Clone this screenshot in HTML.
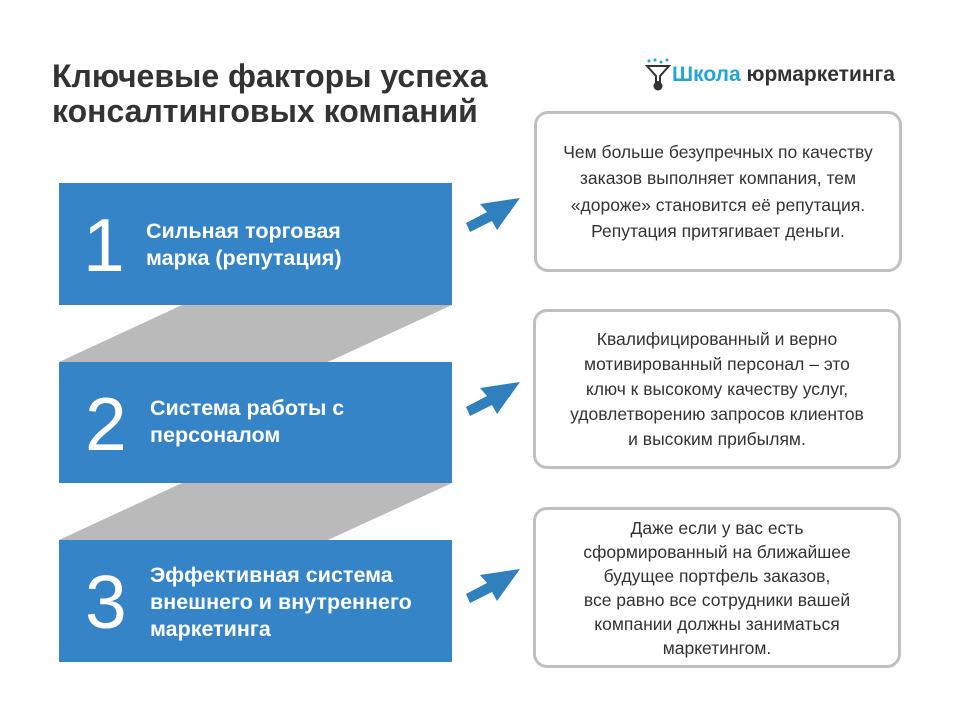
<!DOCTYPE html>
<html><head><meta charset="utf-8"><style>
body{margin:0;width:960px;height:720px;background:#fff;position:relative;overflow:hidden;font-family:"Liberation Sans",sans-serif}
.t{position:absolute;left:52px;top:59px;font-size:32px;font-weight:bold;color:#333;line-height:35px;white-space:nowrap}
.logo{position:absolute;left:672px;top:63px;font-size:21px;font-weight:bold;color:#333;white-space:nowrap}
.logo span{color:#1fa6d6}
.b{position:absolute;left:59px;width:393px;background:#3584c8;color:#fff}
.b .n{position:absolute;left:24px;font-size:75px;line-height:75px}
.b .l{position:absolute;left:87px;font-size:21.5px;font-weight:bold;line-height:27px;white-space:nowrap}
.c{position:absolute;left:534px;width:368px;border:3px solid #c0c0c0;border-radius:14px;color:#333;font-size:17.5px;line-height:26.5px;text-align:center;box-sizing:border-box;display:flex;align-items:center;justify-content:center;white-space:nowrap}
</style></head><body>
<div class="t">Ключевые факторы успеха<br>консалтинговых компаний</div>
<svg style="position:absolute;left:645px;top:58px" width="26" height="34" viewBox="0 0 26 34">
<circle cx="4" cy="3" r="1.5" fill="#1fa6d6"/><circle cx="10" cy="2" r="1.5" fill="#1fa6d6"/><circle cx="16" cy="4" r="1.5" fill="#1fa6d6"/><circle cx="22" cy="2" r="1.5" fill="#1fa6d6"/>
<path d="M2 8 H24 L15 18 V24 H11 V18 Z" fill="none" stroke="#333" stroke-width="2"/>
<circle cx="13" cy="28" r="4.5" fill="#333"/></svg>
<div class="logo"><span>Школа</span> юрмаркетинга</div>

<svg style="position:absolute;left:0;top:0" width="960" height="720">
<polygon points="182,305 452,305 328,362 59,362" fill="#bababa"/>
<polygon points="182,483 452,483 328,540 59,540" fill="#bababa"/>
<g fill="#2f80bc">
<polygon points="466,223 487,212 480,204 520,198 497,230 492,221 470,232"/>
<polygon transform="translate(0,184)" points="466,223 487,212 480,204 520,198 497,230 492,221 470,232"/>
<polygon transform="translate(0,371)" points="466,223 487,212 480,204 520,198 497,230 492,221 470,232"/>
</g></svg>

<div class="b" style="top:183px;height:122px"><div class="n" style="top:25px">1</div><div class="l" style="top:35px">Сильная торговая<br>марка (репутация)</div></div>
<div class="b" style="top:362px;height:121px"><div class="n" style="top:25px;left:26px">2</div><div class="l" style="top:33px;left:91px">Система работы с<br>персоналом</div></div>
<div class="b" style="top:540px;height:122px"><div class="n" style="top:25px;left:26px">3</div><div class="l" style="top:22px;left:91px">Эффективная система<br>внешнего и внутреннего<br>маркетинга</div></div>

<div class="c" style="top:111px;height:161px">Чем больше безупречных по качеству<br>заказов выполняет компания, тем<br>«дороже» становится её репутация.<br>Репутация притягивает деньги.</div>
<div class="c" style="top:309px;height:160px;left:533px;line-height:25px">Квалифицированный и верно<br>мотивированный персонал – это<br>ключ к высокому качеству услуг,<br>удовлетворению запросов клиентов<br>и высоким прибылям.</div>
<div class="c" style="top:507px;height:161px;left:533px;line-height:24px">Даже если у вас есть<br>сформированный на ближайшее<br>будущее портфель заказов,<br>все равно все сотрудники вашей<br>компании должны заниматься<br>маркетингом.</div>
</body></html>
